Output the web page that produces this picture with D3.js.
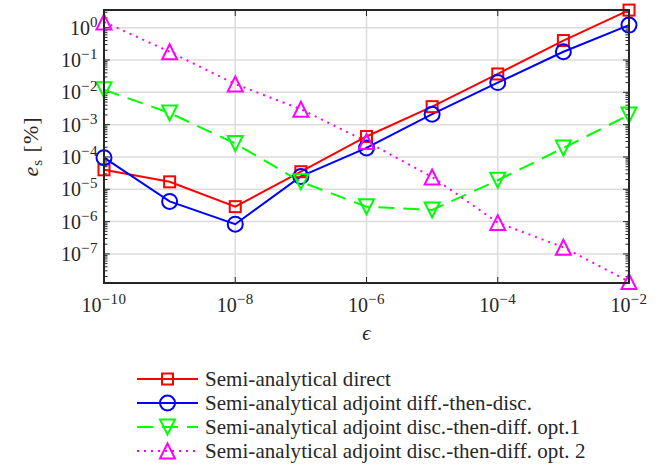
<!DOCTYPE html>
<html>
<head>
<meta charset="utf-8">
<script src="https://cdn.jsdelivr.net/npm/d3@7"></script>
<style>
  html, body { margin: 0; padding: 0; background: #fff; }
  svg { display: block; }
  text { font-family: "Liberation Serif", "DejaVu Serif", serif; fill: #262626; }
</style>
</head>
<body>
<svg id="chart" width="659" height="467"></svg>
<script>
// Step size epsilon (x values)
const epsilons = [1e-10, 1e-9, 1e-8, 1e-7, 1e-6, 1e-5, 1e-4, 1e-3, 1e-2];

// Relative sensitivity error e_s [%] for each method
const directErr    = [4.0e-5, 1.7e-5, 2.9e-6, 3.5e-5, 4.3e-4, 3.6e-3, 3.7e-2, 0.40, 3.5];
const diffDiscErr  = [9.5e-5, 4.2e-6, 8.3e-7, 2.5e-5, 1.9e-4, 2.1e-3, 2.0e-2, 0.18, 1.2];
const discDiff1Err = [1.2e-2, 2.3e-3, 2.6e-4, 1.7e-5, 2.9e-6, 2.3e-6, 1.9e-5, 1.9e-4, 2.0e-3];
const discDiff2Err = [1.5, 0.18, 1.8e-2, 3.0e-3, 3.0e-4, 2.4e-5, 9.3e-7, 1.6e-7, 1.4e-8];

// Tick exponents
const xTickExps = [-10, -8, -6, -4, -2];
const yTickExps = [0, -1, -2, -3, -4, -5, -6, -7];

const legendLabels = [
  "Semi-analytical direct",
  "Semi-analytical adjoint diff.-then-disc.",
  "Semi-analytical adjoint disc.-then-diff. opt.1",
  "Semi-analytical adjoint disc.-then-diff. opt. 2"
];

const series = [
  { values: directErr,    color: "#ff0000", dash: null,   marker: "square" },
  { values: diffDiscErr,  color: "#0000ff", dash: null,   marker: "circle" },
  { values: discDiff1Err, color: "#00ff00", dash: "16,9", marker: "down" },
  { values: discDiff2Err, color: "#ff00ff", dash: "2,5",  marker: "up" }
];

const svg = d3.select("#chart");
const m = { left: 104, right: 629, top: 10, bottom: 283 };

const x = d3.scaleLog().domain([1e-10, 1e-2]).range([m.left, m.right]);
const y = d3.scaleLog().domain([Math.pow(10, -7.9), Math.pow(10, 0.547)]).range([m.bottom, m.top]);

// grid
const grid = svg.append("g");
grid.selectAll(".gx").data(xTickExps).join("line")
  .attr("x1", d => x(Math.pow(10, d))).attr("x2", d => x(Math.pow(10, d)))
  .attr("y1", m.top).attr("y2", m.bottom)
  .attr("stroke", "#dcdcdc").attr("stroke-width", 1.5);
grid.selectAll(".gy").data(yTickExps).join("line")
  .attr("y1", d => y(Math.pow(10, d))).attr("y2", d => y(Math.pow(10, d)))
  .attr("x1", m.left).attr("x2", m.right)
  .attr("stroke", "#dcdcdc").attr("stroke-width", 1.5);

// ticks (inward, both sides)
const ticks = svg.append("g").attr("stroke", "#262626").attr("stroke-width", 1);
const yMinor = [];
for (let e = -8; e <= 0; e++) {
  for (let k = 1; k <= 9; k++) {
    const v = k * Math.pow(10, e);
    if (v >= y.domain()[0] && v <= y.domain()[1]) yMinor.push({ v, major: k === 1 });
  }
}
yMinor.forEach(t => {
  const yy = y(t.v);
  const len = t.major ? 6 : 3.5;
  ticks.append("line").attr("x1", m.left).attr("x2", m.left + len).attr("y1", yy).attr("y2", yy);
  ticks.append("line").attr("x1", m.right).attr("x2", m.right - len).attr("y1", yy).attr("y2", yy);
});
xTickExps.forEach(e => {
  const xx = x(Math.pow(10, e));
  ticks.append("line").attr("x1", xx).attr("x2", xx).attr("y1", m.bottom).attr("y2", m.bottom - 6);
  ticks.append("line").attr("x1", xx).attr("x2", xx).attr("y1", m.top).attr("y2", m.top + 6);
});

// series lines
const line = d3.line().x((d, i) => x(epsilons[i])).y(d => y(d));
series.forEach(s => {
  svg.append("path").datum(s.values)
    .attr("d", line)
    .attr("fill", "none")
    .attr("stroke", s.color)
    .attr("stroke-width", 2)
    .attr("stroke-dasharray", s.dash);
});

// markers
function drawMarker(g, type, cx, cy, color) {
  if (type === "square") {
    g.append("rect").attr("x", cx - 5.5).attr("y", cy - 5.5).attr("width", 11).attr("height", 11)
      .attr("fill", "none").attr("stroke", color).attr("stroke-width", 2);
  } else if (type === "circle") {
    g.append("circle").attr("cx", cx).attr("cy", cy).attr("r", 7.5)
      .attr("fill", "none").attr("stroke", color).attr("stroke-width", 2);
  } else if (type === "down") {
    const h = 7.5;
    g.append("path").attr("d", `M${cx - h},${cy - h}L${cx + h},${cy - h}L${cx},${cy + h}Z`)
      .attr("fill", "none").attr("stroke", color).attr("stroke-width", 2);
  } else if (type === "up") {
    const h = 7.5;
    g.append("path").attr("d", `M${cx - h},${cy + h}L${cx + h},${cy + h}L${cx},${cy - h}Z`)
      .attr("fill", "none").attr("stroke", color).attr("stroke-width", 2);
  }
}
series.forEach(s => {
  const g = svg.append("g");
  s.values.forEach((v, i) => drawMarker(g, s.marker, x(epsilons[i]), y(v), s.color));
});

// axes box
svg.append("rect").attr("x", m.left).attr("y", m.top)
  .attr("width", m.right - m.left).attr("height", m.bottom - m.top)
  .attr("fill", "none").attr("stroke", "#262626").attr("stroke-width", 2);

// tick labels
function powLabel(g, e, px, py, anchor) {
  const t = g.append("text").attr("x", px).attr("y", py).attr("text-anchor", anchor)
    .style("font-size", "20px");
  t.append("tspan").text("10");
  t.append("tspan").attr("dy", -8).style("font-size", "15px").style("letter-spacing", "0.5px")
    .text(e < 0 ? "\u2212" + (-e) : String(e));
}
const lab = svg.append("g");
xTickExps.forEach(e => powLabel(lab, e, x(Math.pow(10, e)), 312, "middle"));
yTickExps.forEach(e => powLabel(lab, e, 98, y(Math.pow(10, e)) + 7, "end"));

// axis titles
svg.append("text").attr("x", (m.left + m.right) / 2).attr("y", 340)
  .attr("text-anchor", "middle").style("font-size", "21px").style("font-style", "italic").text("\u03f5");

const yl = svg.append("text")
  .attr("transform", `translate(38,${(m.top + m.bottom) / 2}) rotate(-90)`)
  .attr("text-anchor", "middle").style("font-size", "22px").style("letter-spacing", "1px");
yl.append("tspan").style("font-style", "italic").text("e");
yl.append("tspan").attr("dy", 4).style("font-size", "15px").text("s");
yl.append("tspan").attr("dy", -4).text(" [%]");

// legend
const leg = svg.append("g");
legendLabels.forEach((label, i) => {
  const s = series[i];
  const ly = 379 + i * 24;
  leg.append("line").attr("x1", 137).attr("x2", 198).attr("y1", ly).attr("y2", ly)
    .attr("stroke", s.color).attr("stroke-width", 2).attr("stroke-dasharray", s.dash);
  drawMarker(leg, s.marker, 167.5, ly, s.color);
  leg.append("text").attr("x", 205).attr("y", ly + 6.5)
    .style("font-size", "21px").style("letter-spacing", "0.05px").text(label);
});
</script>
</body>
</html>
